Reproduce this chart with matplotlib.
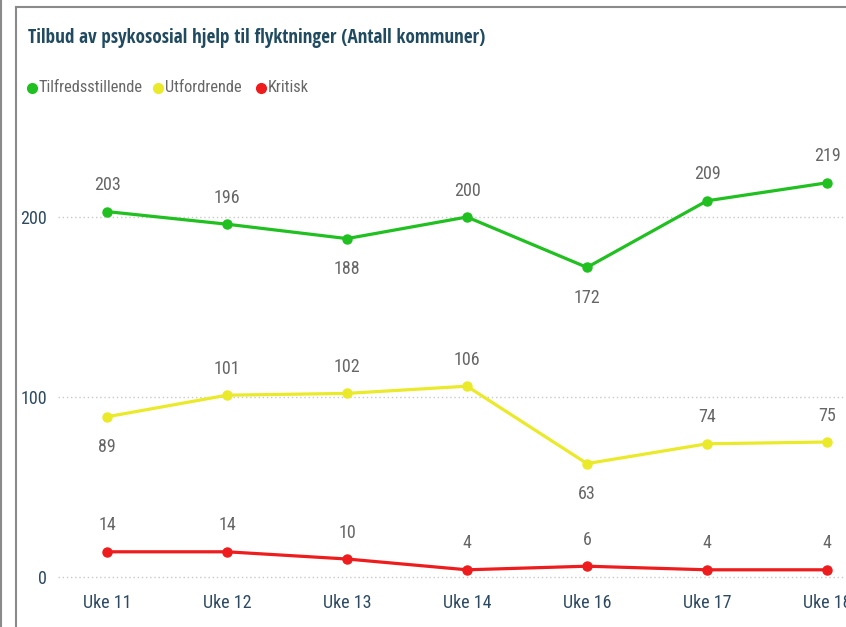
import matplotlib
matplotlib.use("Agg")
import matplotlib.pyplot as plt
from matplotlib.lines import Line2D

plt.rcParams['font.family'] = ['Roboto Condensed', 'DejaVu Sans']

weeks = ["Uke 11", "Uke 12", "Uke 13", "Uke 14", "Uke 16", "Uke 17", "Uke 18"]
tilfreds = [203, 196, 188, 200, 172, 209, 219]
utford = [89, 101, 102, 106, 63, 74, 75]
kritisk = [14, 14, 10, 4, 6, 4, 4]
yticks = [0, 100, 200]

series = [
    ("Tilfredsstillende", tilfreds, "#1fc01f", ["a", "a", "b", "a", "b", "a", "a"]),
    ("Utfordrende", utford, "#eaea2a", ["b", "a", "a", "a", "b", "a", "a"]),
    ("Kritisk", kritisk, "#ee1c1c", ["a"] * 7),
]

W, H = 846, 627
fig = plt.figure(figsize=(W / 100, H / 100), dpi=100)

def fx(px):
    return px / W

def fy(py):
    return 1 - py / H

ax_left, ax_right, ax_top, ax_bot = 58, 846, 130, 590
ax = fig.add_axes([fx(ax_left), fy(ax_bot), fx(ax_right - ax_left), fy(ax_top) - fy(ax_bot)])
x = list(range(len(weeks)))
ax.set_xlim(-(107 - 58) / 120, 6 + (846 - 827) / 120)
ax.set_ylim(-(590 - 577) / 1.8, (577 - 130) / 1.8)

for name, vals, col, pos in series:
    ax.plot(x, vals, color=col, lw=2.3, marker='o', ms=6.5, zorder=3, clip_on=False)
    for xi, v, p in zip(x, vals, pos):
        off = 19 if p == "a" else -22
        ax.annotate(str(v), (xi, v), xytext=(0, off), textcoords='offset points',
                    ha='center', va='center', fontsize=13, color='#666666')

ax.set_yticks(yticks)
ax.set_xticks(x)
ax.set_xticklabels(weeks)
ax.tick_params(axis='both', length=0, labelsize=13, colors='#2d4a62')
ax.tick_params(axis='y', pad=8)
ax.tick_params(axis='x', pad=3)
ax.grid(axis='y', color='#c8c8c8', linestyle=(0, (1, 2)), lw=1)
ax.grid(axis='x', visible=False)
for s in ax.spines.values():
    s.set_visible(False)

# title
fig.text(fx(28), fy(38), "Tilbud av psykososial hjelp til flyktninger (Antall kommuner)",
         fontsize=13.8, fontweight='bold', color='#1f4a60', va='center', ha='left',
         family=['Open Sans Condensed', 'DejaVu Sans'])

# legend
leg = [("Tilfredsstillende", "#1fc01f", 32, 39), ("Utfordrende", "#eaea2a", 158, 165),
       ("Kritisk", "#ee1c1c", 261, 268)]
for name, col, mx, tx in leg:
    fig.add_artist(Line2D([fx(mx)], [fy(88)], marker='o', ms=7, color=col, transform=fig.transFigure))
    fig.text(fx(tx), fy(88), name, fontsize=11.8, color='#666666', va='center', ha='left')

# borders
fig.add_artist(Line2D([fx(15.5), fx(15.5)], [fy(7), 0], color='#8a8a8a', lw=1.5, transform=fig.transFigure))
fig.add_artist(Line2D([fx(15.5), 1], [fy(7), fy(7)], color='#8a8a8a', lw=1.5, transform=fig.transFigure))
fig.add_artist(Line2D([fx(1), fx(1)], [0, 1], color='#8a8a8a', lw=1.5, transform=fig.transFigure))

fig.savefig("out.png", dpi=100)
